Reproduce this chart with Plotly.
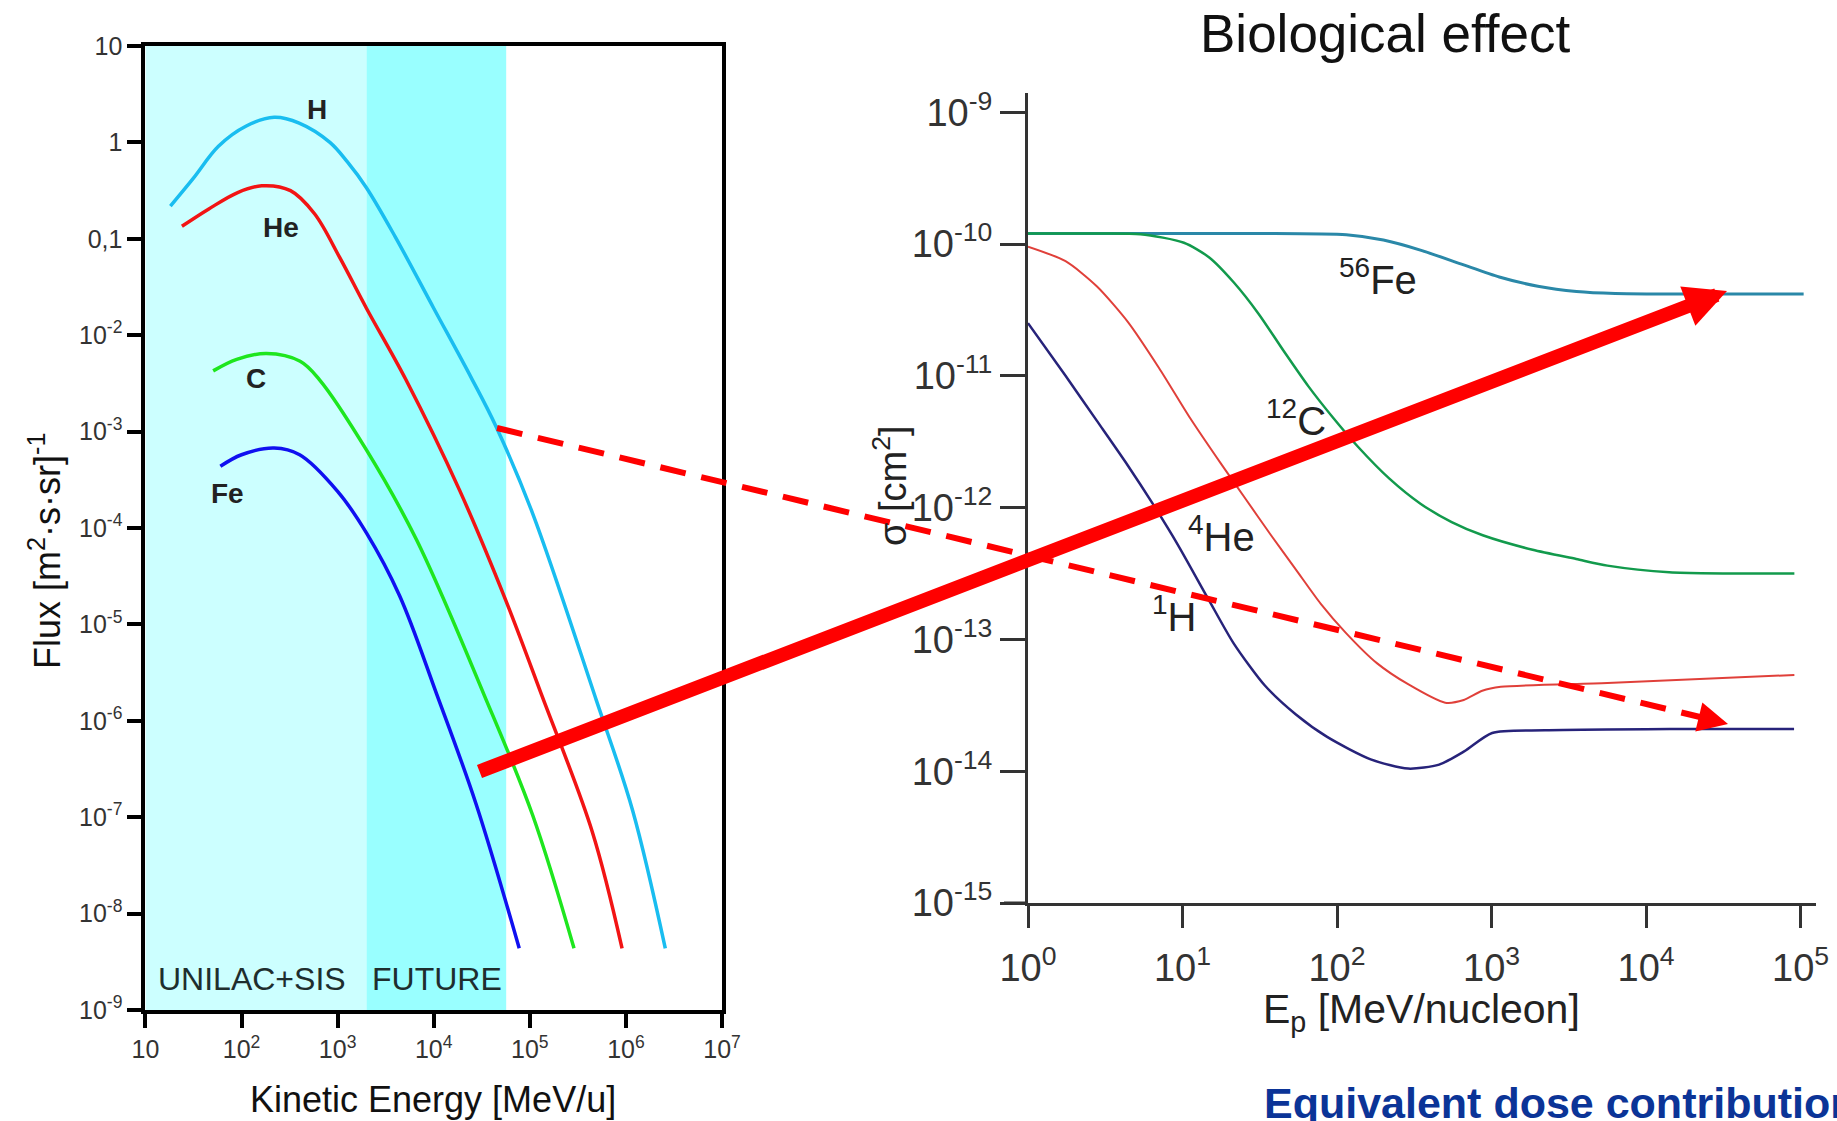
import numpy as np
import plotly.graph_objects as go

FONT = "Liberation Sans, Arial, sans-serif"
W, H = 1837, 1121

# ---------------- Left panel: cosmic ray flux (log10 values)
flux_H_logE = [1.26, 1.5, 1.76, 2.05, 2.34, 2.6, 2.92, 3.1, 3.3, 3.6, 4.0, 4.39, 4.65, 5.03, 5.69, 6.07, 6.41]
flux_H_logF = [-0.66, -0.37, -0.04, 0.17, 0.26, 0.2, 0.0, -0.20, -0.47, -0.98, -1.72, -2.44, -2.95, -3.85,
               -5.78, -6.93, -8.36]
flux_He_logE = [1.38, 1.66, 1.96, 2.21, 2.51, 2.76, 3.02, 3.30, 3.71, 4.27, 4.75, 5.13, 5.65, 5.96]
flux_He_logF = [-0.87, -0.69, -0.52, -0.45, -0.50, -0.74, -1.19, -1.72, -2.46, -3.61, -4.75, -5.75, -7.15, -8.36]
flux_C_logE = [1.705, 1.95, 2.26, 2.61, 2.81, 3.30, 3.82, 4.52, 5.03, 5.46]
flux_C_logF = [-2.37, -2.25, -2.19, -2.27, -2.46, -3.19, -4.12, -5.72, -6.98, -8.36]
flux_Fe_logE = [1.78, 2.0, 2.34, 2.605, 3.0, 3.30, 3.644, 4.03, 4.44, 4.89]
flux_Fe_logF = [-3.36, -3.24, -3.17, -3.24, -3.62, -4.05, -4.70, -5.72, -6.86, -8.36]

left_xtick_vals = [10, 1e2, 1e3, 1e4, 1e5, 1e6, 1e7]
left_xtick_text = ["10", "10<sup>2</sup>", "10<sup>3</sup>", "10<sup>4</sup>",
                   "10<sup>5</sup>", "10<sup>6</sup>", "10<sup>7</sup>"]
left_ytick_vals = [10, 1, 0.1, 1e-2, 1e-3, 1e-4, 1e-5, 1e-6, 1e-7, 1e-8, 1e-9]
left_ytick_text = ["10", "1", "0,1"] + ["10<sup>-%d</sup>" % k for k in range(2, 10)]

region_unilac = [10, 2000]
region_future = [2000, 56800]

# ---------------- Right panel: cross sections (log10 values)
sig_Fe_logE = [0, 0.5, 1.0, 1.5, 2.06, 2.3, 2.55, 2.8, 3.05, 3.3, 3.55, 3.8, 4.5, 5.02]
sig_Fe_logS = [-9.92, -9.92, -9.92, -9.92, -9.93, -9.97, -10.05, -10.15, -10.25, -10.32, -10.36, -10.375, -10.38, -10.38]
sig_C_logE = [0, 0.4, 0.727, 1.009, 1.171, 1.331, 1.493, 1.654, 1.815, 1.976, 2.137, 2.339, 2.54, 2.742,
              2.943, 3.266, 3.548, 3.75, 4.15, 4.96]
sig_C_logS = [-9.92, -9.92, -9.925, -9.99, -10.10, -10.29, -10.53, -10.81, -11.08, -11.32, -11.54, -11.78,
              -11.97, -12.11, -12.21, -12.32, -12.39, -12.44, -12.49, -12.50]
sig_He_logE = [0, 0.243, 0.445, 0.646, 0.848, 1.049, 1.251, 1.412, 1.573, 1.734, 1.895, 2.057, 2.258,
               2.46, 2.70, 2.82, 2.94, 3.06, 3.75, 4.96]
sig_He_logS = [-10.02, -10.13, -10.32, -10.59, -10.94, -11.32, -11.67, -11.94, -12.21, -12.47, -12.73,
               -12.95, -13.18, -13.34, -13.48, -13.46, -13.39, -13.36, -13.33, -13.27]
sig_H_logE = [0, 0.243, 0.445, 0.646, 0.807, 0.969, 1.17, 1.331, 1.533, 1.734, 1.936, 2.218, 2.46,
              2.661, 2.823, 3.004, 3.347, 4.153, 4.958]
sig_H_logS = [-10.60, -11.0, -11.34, -11.68, -11.97, -12.28, -12.70, -13.03, -13.35, -13.57, -13.74,
              -13.91, -13.98, -13.95, -13.85, -13.71, -13.69, -13.68, -13.68]

right_xtick_vals = [1, 10, 1e2, 1e3, 1e4, 1e5]
right_xtick_text = ["10<sup>%d</sup>" % k for k in range(0, 6)]
right_ytick_vals = [10.0 ** -k for k in range(9, 16)]
right_ytick_text = ["10<sup>-%d</sup>" % k for k in range(9, 16)]


def p(v):
    return 10.0 ** np.array(v)


fig = go.Figure()

left_series = [
    (flux_H_logE, flux_H_logF, "#19bdf0"),
    (flux_He_logE, flux_He_logF, "#f21414"),
    (flux_C_logE, flux_C_logF, "#1ee61e"),
    (flux_Fe_logE, flux_Fe_logF, "#1010f0"),
]
for lx, ly, col in left_series:
    fig.add_trace(go.Scatter(x=p(lx), y=p(ly), mode="lines", xaxis="x", yaxis="y",
                             line=dict(color=col, width=3.5, shape="spline", smoothing=1.0),
                             showlegend=False, hoverinfo="skip"))

right_series = [
    (sig_Fe_logE, sig_Fe_logS, "#2a88a8", 3),
    (sig_C_logE, sig_C_logS, "#129a4c", 2.5),
    (sig_He_logE, sig_He_logS, "#e0403a", 2),
    (sig_H_logE, sig_H_logS, "#27237a", 2.5),
]
for lx, ly, col, w in right_series:
    fig.add_trace(go.Scatter(x=p(lx), y=p(ly), mode="lines", xaxis="x2", yaxis="y2",
                             line=dict(color=col, width=w, shape="spline", smoothing=0.7),
                             showlegend=False, hoverinfo="skip"))

px = lambda v: v / W
py = lambda v: 1 - v / H

left_dom_x = [px(145.4), px(722)]
left_dom_y = [py(1010), py(46)]
right_dom_x = [px(1028), px(1816)]
right_dom_y = [py(903), py(93)]

common = dict(showgrid=False, zeroline=False, automargin=False)
fig.update_layout(
    width=W, height=H, margin=dict(l=0, r=0, t=0, b=0, pad=0), autosize=False,
    paper_bgcolor="white", plot_bgcolor="rgba(0,0,0,0)",
    font=dict(family=FONT, color="#222"),
    xaxis=dict(type="log", range=[1, 7], domain=left_dom_x, anchor="y",
               tickvals=left_xtick_vals, ticktext=left_xtick_text,
               ticks="outside", ticklen=14, tickwidth=4, tickcolor="black",
               showline=True, linewidth=4, linecolor="black", mirror=True,
               tickfont=dict(size=25, color="#333", family=FONT), **common),
    yaxis=dict(type="log", range=[-9, 1], domain=left_dom_y, anchor="x",
               tickvals=left_ytick_vals, ticktext=left_ytick_text,
               ticks="outside", ticklen=14, tickwidth=4, tickcolor="black",
               showline=True, linewidth=4, linecolor="black", mirror=True,
               tickfont=dict(size=25, color="#333", family=FONT), **common),
    xaxis2=dict(type="log", range=[0, 5.1], domain=right_dom_x, anchor="y2",
                tickvals=right_xtick_vals, ticktext=right_xtick_text,
                ticks="outside", ticklen=22, tickwidth=3, tickcolor="#333",
                showline=True, linewidth=3, linecolor="#333", mirror=False,
                ticklabelstandoff=7,
                tickfont=dict(size=38, color="#333", family=FONT), **common),
    yaxis2=dict(type="log", range=[-15, -8.854], domain=right_dom_y, anchor="x2",
                tickvals=right_ytick_vals, ticktext=right_ytick_text,
                ticks="outside", ticklen=25, tickwidth=3, tickcolor="#333",
                showline=True, linewidth=3, linecolor="#333", mirror=False,
                tickfont=dict(size=38, color="#333", family=FONT), **common),
)

shapes = [
    dict(type="rect", xref="x", yref="y domain", x0=region_unilac[0], x1=region_unilac[1], y0=0, y1=1,
         fillcolor="#ccffff", line=dict(width=0), layer="below"),
    dict(type="rect", xref="x", yref="y domain", x0=region_future[0], x1=region_future[1], y0=0, y1=1,
         fillcolor="#99ffff", line=dict(width=0), layer="below"),
    # extension of the right x axis line to the left of the y axis
    dict(type="line", xref="paper", yref="paper", x0=px(1004), x1=px(1028), y0=py(903), y1=py(903),
         line=dict(color="#333", width=3)),
    # dashed arrow body
    dict(type="line", xref="paper", yref="paper", x0=px(497), y0=py(428), x1=px(1700), y1=py(717),
         line=dict(color="#ff0000", width=6, dash="26px,16px"), layer="above"),
]
fig.update_layout(shapes=shapes)


def note(text, x, y, size, color="#222", xref="paper", yref="paper", xanchor="center", angle=0):
    return dict(text=text, x=x, y=y, xref=xref, yref=yref, xanchor=xanchor, yanchor="middle",
                showarrow=False, textangle=angle, font=dict(size=size, color=color, family=FONT))


ann = []
for t, x, y in [("H", 2.79, 0.346), ("He", 2.41, -0.878), ("C", 2.15, -2.45), ("Fe", 1.85, -3.64)]:
    ann.append(note("<b>%s</b>" % t, x, y, 28, xref="x", yref="y"))
ann.append(note("UNILAC+SIS", px(156), py(979), 32, color="#1e2e2e", xanchor="left"))
ann.append(note("FUTURE", px(370), py(979), 32, color="#1e2e2e", xanchor="left"))
ann.append(note("Flux [m<sup>2</sup>·s·sr]<sup>-1</sup>", px(45), py(551), 36, color="#111", angle=-90))
ann.append(note("Kinetic Energy [MeV/u]", px(433), py(1099), 36, color="#111"))
for t, x, y in [("<sup>56</sup>Fe", 2.264, -10.25), ("<sup>12</sup>C", 1.733, -11.32),
                ("<sup>4</sup>He", 1.251, -12.20), ("<sup>1</sup>H", 0.948, -12.81)]:
    ann.append(note(t, x, y, 40, xref="x2", yref="y2"))
ann.append(note("Biological effect", px(1385), py(33), 53, color="#111"))
ann.append(note("E<sub>p</sub> [MeV/nucleon]", px(1421), py(1012), 41))
ann.append(note("σ [cm<sup>2</sup>]", px(890), py(486), 38, angle=-90))
ann.append(note("<b>Equivalent dose contribution</b>", px(1262), py(1103), 43, color="#0b3497",
                xanchor="left"))
# dashed arrow head
ann.append(dict(text="", x=px(1728), y=py(724), xref="paper", yref="paper", showarrow=True,
                ax=-29, ay=-7, arrowhead=2, arrowsize=1.0, arrowwidth=6, arrowcolor="#ff0000"))
# thick arrow
ann.append(dict(text="", x=px(1727), y=py(291), xref="paper", yref="paper", showarrow=True,
                ax=478 - 1727, ay=772 - 291, arrowhead=2, arrowsize=0.6, arrowwidth=14,
                arrowcolor="#ff0000"))
fig.update_layout(annotations=ann)

fig.write_html("out.html")
